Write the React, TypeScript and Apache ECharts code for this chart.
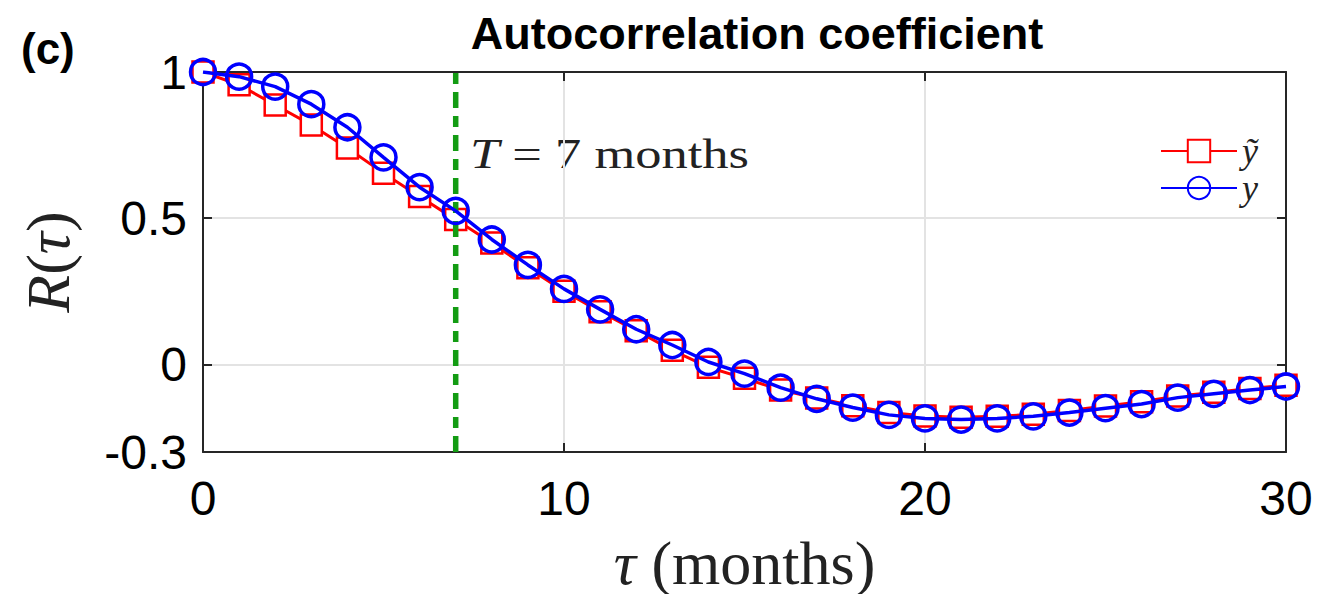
import React, { useEffect, useRef } from "react";
import * as echarts from "echarts";

const tau = [0, 1, 2, 3, 4, 5, 6, 7, 8, 9, 10, 11, 12, 13, 14, 15, 16, 17, 18, 19, 20, 21, 22, 23, 24, 25, 26, 27, 28, 29, 30];
const yTildeValues = [1.0, 0.956, 0.887, 0.819, 0.74, 0.654, 0.574, 0.495, 0.415, 0.33, 0.25, 0.18, 0.115, 0.048, -0.01, -0.048, -0.088, -0.115, -0.142, -0.165, -0.177, -0.181, -0.178, -0.171, -0.158, -0.143, -0.128, -0.108, -0.096, -0.083, -0.072];
const yValues = [1.0, 0.984, 0.95, 0.89, 0.811, 0.708, 0.606, 0.525, 0.427, 0.34, 0.258, 0.188, 0.12, 0.066, 0.008, -0.032, -0.08, -0.118, -0.148, -0.173, -0.185, -0.189, -0.185, -0.178, -0.165, -0.15, -0.136, -0.114, -0.101, -0.088, -0.076];
const yTicks = [-0.3, 0, 0.5, 1];
const xTicks = [0, 10, 20, 30];
const markerTau = 7;
const seriesNames = ["ỹ", "y"];

const SANS = "'Liberation Sans', Arial, Helvetica, sans-serif";
const SERIF = "'Liberation Serif', 'DejaVu Serif', serif";
const AXIS_COLOR = "#262626";

export default function App() {
  const ref = useRef<HTMLDivElement>(null);
  useEffect(() => {
    if (!ref.current) return;
    const chart = echarts.init(ref.current, null, { renderer: "svg" });
    const frameAxis = {
      axisLine: { show: true, onZero: false, lineStyle: { color: AXIS_COLOR, width: 2 } },
      axisTick: { show: true, inside: true, length: 9, lineStyle: { color: AXIS_COLOR, width: 2 } },
    };
    const option: any = {
      animation: false,
      backgroundColor: "#ffffff",
      title: {
        text: "Autocorrelation coefficient",
        left: 752,
        textAlign: "center",
        top: 6,
        textStyle: { fontFamily: SANS, fontWeight: "bold", fontSize: 45, color: "#000" },
      },
      graphic: [
        {
          type: "text",
          left: 21,
          top: 26,
          style: { text: "(c)", font: `bold 44px ${SANS}`, fill: "#000" },
        },
        {
          type: "text",
          left: 470,
          top: 133,
          scaleX: 1.25,
          style: {
            text: "{i|T} = 7 months",
            fill: "#222",
            font: `42px ${SERIF}`,
            rich: { i: { fontStyle: "italic", fontFamily: SERIF, fontSize: 42, fill: "#222" } },
          },
        },
      ],
      legend: {
        data: seriesNames,
        orient: "vertical",
        left: 1155,
        top: 128,
        itemWidth: 76,
        itemHeight: 28,
        itemGap: 1,
        textStyle: { fontFamily: SERIF, fontStyle: "italic", fontSize: 36, color: "#222" },
      },
      grid: {
        left: 203,
        right: 36,
        top: 72,
        bottom: 150,
      },
      xAxis: [
        {
          type: "value",
          min: 0,
          max: 30,
          interval: 10,
          ...frameAxis,
          axisLabel: {
            customValues: xTicks,
            fontFamily: SANS,
            fontSize: 48,
            color: "#000",
            margin: 22,
          },
          splitLine: { show: true, lineStyle: { color: "#e3e3e3", width: 2 } },
          name: "{i|τ} (months)",
          nameLocation: "middle",
          nameGap: 80,
          nameTextStyle: {
            fontFamily: SERIF,
            fontSize: 62,
            color: "#222",
            rich: { i: { fontFamily: SERIF, fontStyle: "italic", fontSize: 62, color: "#222" } },
          },
        },
        {
          type: "value",
          position: "top",
          min: 0,
          max: 30,
          interval: 10,
          ...frameAxis,
          axisLabel: { show: false },
          splitLine: { show: false },
        },
      ],
      yAxis: [
        {
          type: "value",
          min: -0.3,
          max: 1,
          axisLine: frameAxis.axisLine,
          axisTick: { ...frameAxis.axisTick, customValues: yTicks },
          axisLabel: {
            customValues: yTicks,
            fontFamily: SANS,
            fontSize: 48,
            color: "#000",
            margin: 16,
            formatter: (v: number) => String(Math.round(v * 10) / 10),
          },
          splitLine: { show: true, lineStyle: { color: "#e3e3e3", width: 2 } },
          name: "{i|R}({i|τ})",
          nameLocation: "middle",
          nameRotate: 90,
          nameGap: 124,
          nameTextStyle: {
            fontFamily: SERIF,
            fontSize: 62,
            color: "#222",
            rich: { i: { fontFamily: SERIF, fontStyle: "italic", fontSize: 62, color: "#222" } },
          },
        },
        {
          type: "value",
          position: "right",
          min: -0.3,
          max: 1,
          axisLine: frameAxis.axisLine,
          axisTick: { ...frameAxis.axisTick, customValues: yTicks },
          axisLabel: { show: false },
          splitLine: { show: false },
        },
      ],
      series: [
        {
          name: seriesNames[0],
          type: "line",
          data: tau.map((t, i) => [t, yTildeValues[i]]),
          symbol: "rect",
          symbolSize: 21,
          showSymbol: true,
          color: "#ff0000",
          lineStyle: { color: "#ff0000", width: 3 },
          itemStyle: { color: "#ffffff", borderColor: "#ff0000", borderWidth: 2.5 },
          z: 3,
        },
        {
          name: "T",
          type: "line",
          data: [
            [markerTau, -0.3],
            [markerTau, 1],
          ],
          symbol: "none",
          lineStyle: { color: "#139c13", width: 5.5, type: [16, 8, 11, 8] },
          z: 4,
          silent: true,
        },
        {
          name: seriesNames[1],
          type: "line",
          data: tau.map((t, i) => [t, yValues[i]]),
          symbol: "circle",
          symbolSize: 25,
          showSymbol: true,
          color: "#0000ff",
          lineStyle: { color: "#0000ff", width: 3.5 },
          itemStyle: { color: "rgba(255,255,255,0)", borderColor: "#0000ff", borderWidth: 3.5 },
          z: 5,
        },
      ],
    };
    chart.setOption(option);
    return () => chart.dispose();
  }, []);
  return <div ref={ref} style={{ width: 1322, height: 602, margin: -8 }} />;
}
